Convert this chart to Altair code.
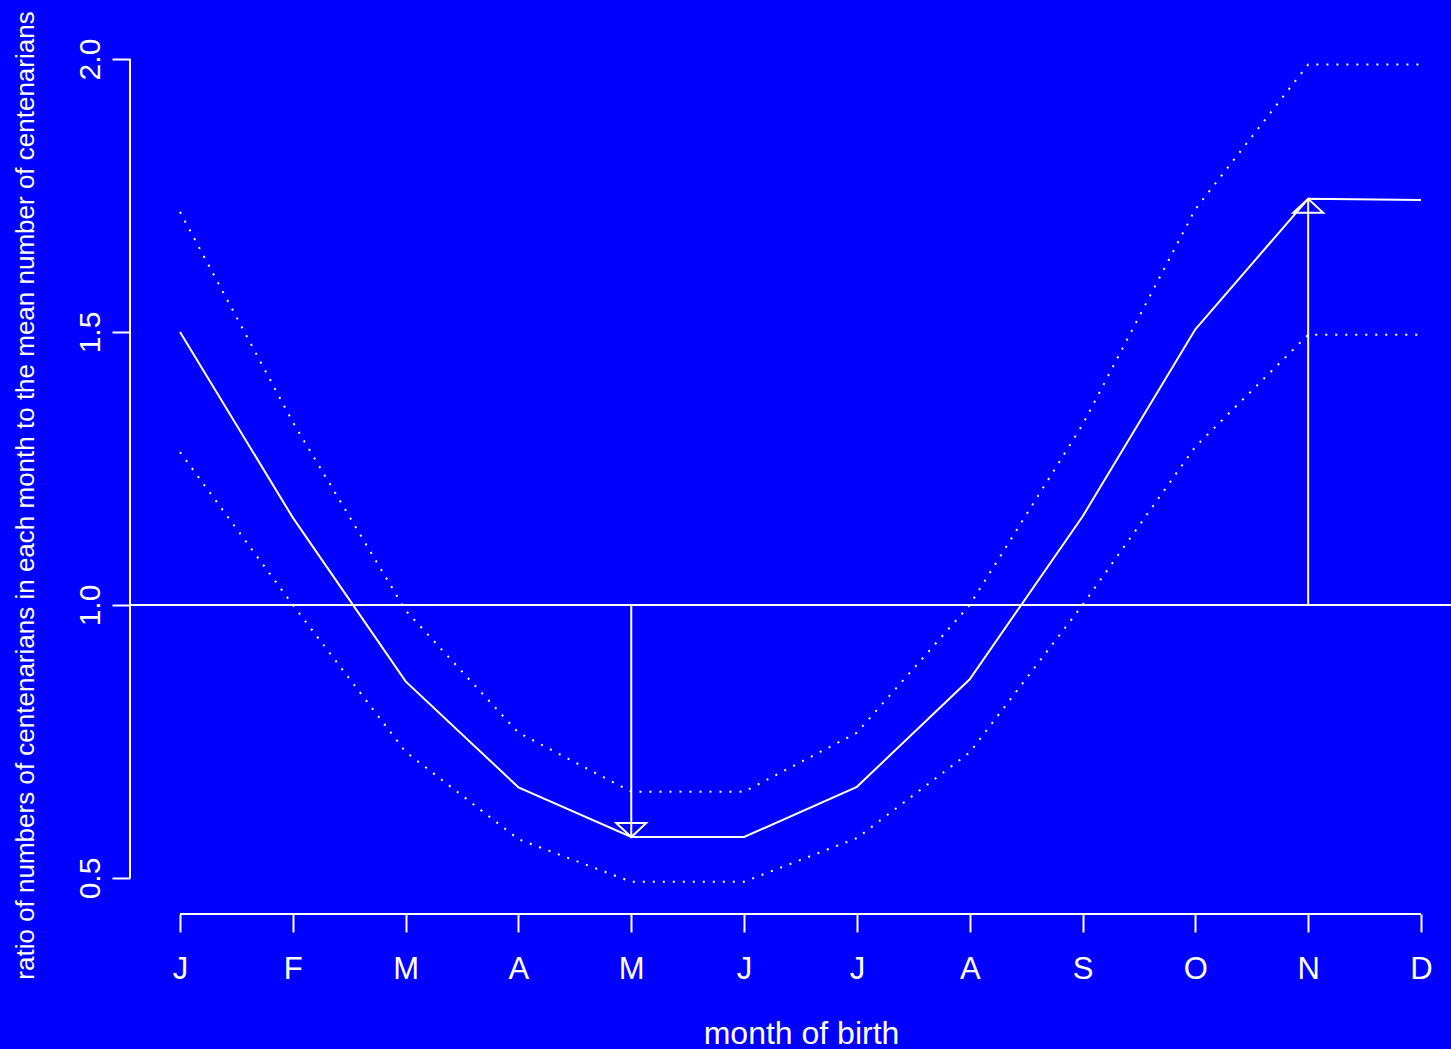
import json
import altair as alt
import pandas as pd

# ---- data ----
months = ["J", "F", "M", "A", "M", "J", "J", "A", "S", "O", "N", "D"]
ratio = [1.50, 1.16, 0.86, 0.666, 0.575, 0.575, 0.667, 0.864, 1.162, 1.505, 1.744, 1.742]
upper = [1.72, 1.335, 0.99, 0.766, 0.658, 0.658, 0.766, 1.00, 1.33, 1.725, 1.99, 1.99]
lower = [1.28, 1.00, 0.731, 0.571, 0.493, 0.493, 0.573, 0.73, 1.00, 1.29, 1.495, 1.495]
y_ticks = [0.5, 1.0, 1.5, 2.0]
reference_level = [1.0]
arrow_month = [4, 10]
arrow_from = [1.0, 1.0]
arrow_to = [0.575, 1.744]
arrow_dir = ["down", "up"]

# ---- layout ----
W, H = 1321, 882
X_DOMAIN = [-0.4432, 11.266]
Y_DOMAIN = [0.434, 2.0495]
BG = "#0000FF"
FG = "white"
FONT = "Liberation Sans"

idx = list(range(len(months)))
df = pd.DataFrame({"idx": idx, "ratio": ratio, "upper": upper, "lower": lower})
arrows = pd.DataFrame({"idx": arrow_month, "y0": arrow_from, "y1": arrow_to,
                       "dir": arrow_dir})
shape_paths = {"down": "M-1,-0.93L1,-0.93L0,0Z", "up": "M-1,0.93L1,0.93L0,0Z"}
arrows["shape"] = arrows["dir"].map(shape_paths)
ref_df = pd.DataFrame({"ref": reference_level})
xaxis_df = pd.DataFrame({"x0": [idx[0]], "x1": [idx[-1]]})
yaxis_df = pd.DataFrame({"y0": [y_ticks[0]], "y1": [y_ticks[-1]]})

xs = alt.Scale(domain=X_DOMAIN, nice=False, zero=False)
ys = alt.Scale(domain=Y_DOMAIN, nice=False, zero=False)

label_expr = json.dumps(months) + "[datum.value]"

X_TITLE = "month of birth"
Y_TITLE = "ratio of numbers of centenarians in each month to the mean number of centenarians"

x_axis = alt.Axis(
    values=idx, labelExpr=label_expr, title=X_TITLE,
    grid=False, domain=False, tickSize=18, tickWidth=2, tickColor=FG,
    labelColor=FG, labelFont=FONT, labelFontSize=31, labelOverlap=False,
    labelFlush=False, labelBaseline="alphabetic", labelPadding=46,
    titleColor=FG, titleFont=FONT, titleFontSize=32, titleFontWeight="normal",
    titleX=671, titleY=129, titleAlign="center", titleBaseline="alphabetic",
)
y_axis = alt.Axis(
    values=y_ticks, format=".1f", title=Y_TITLE,
    grid=False, domain=False, tickSize=18, tickWidth=2, tickColor=FG,
    labelColor=FG, labelFont=FONT, labelFontSize=30, labelOverlap=False,
    labelFlush=False, labelAngle=270, labelAlign="center",
    labelBaseline="alphabetic", labelPadding=13,
    titleColor=FG, titleFont=FONT, titleFontSize=26,
    titleFontWeight="normal", titleAngle=270, titleX=-97, titleY=463,
    titleAlign="center", titleBaseline="alphabetic",
)


def X(field):
    return alt.X(f"{field}:Q", scale=xs, axis=x_axis, title=X_TITLE)


def Y(field):
    return alt.Y(f"{field}:Q", scale=ys, axis=y_axis, title=Y_TITLE)


main = alt.Chart(df).mark_line(color=FG, strokeWidth=2).encode(
    x=X("idx"), y=Y("ratio"),
)


def dotted(col):
    return alt.Chart(df).mark_line(color=FG, strokeWidth=2, strokeDash=[2, 8]).encode(
        x=X("idx"), y=Y(col),
    )


ref_rule = alt.Chart(ref_df).mark_rule(color=FG, strokeWidth=2).encode(
    y=Y("ref"), x=alt.value(0), x2=alt.value(W),
)

arrow_rules = alt.Chart(arrows).mark_rule(color=FG, strokeWidth=2).encode(
    x=X("idx"), y=Y("y0"), y2="y1:Q",
)

arrow_heads = alt.Chart(arrows).mark_point(
    filled=False, stroke=FG, strokeWidth=2, size=900, opacity=1
).encode(
    x=X("idx"), y=Y("y1"),
    shape=alt.Shape("shape:N", scale=None, legend=None),
)

x_axis_line = alt.Chart(xaxis_df).mark_rule(color=FG, strokeWidth=2).encode(
    x=X("x0"), x2="x1:Q", y=alt.value(H),
)
y_axis_line = alt.Chart(yaxis_df).mark_rule(color=FG, strokeWidth=2).encode(
    y=Y("y0"), y2="y1:Q", x=alt.value(0),
)

chart = alt.layer(
    main, dotted("upper"), dotted("lower"), ref_rule, arrow_rules, arrow_heads,
    x_axis_line, y_axis_line,
).properties(
    width=W, height=H,
    autosize=alt.AutoSizeParams(type="none"),
    padding={"left": 130, "top": 32, "right": 0, "bottom": 135},
    background=BG,
).configure_view(stroke=None, fill=BG)

chart.save("out.html", embed_options={"renderer": "svg", "actions": False})
